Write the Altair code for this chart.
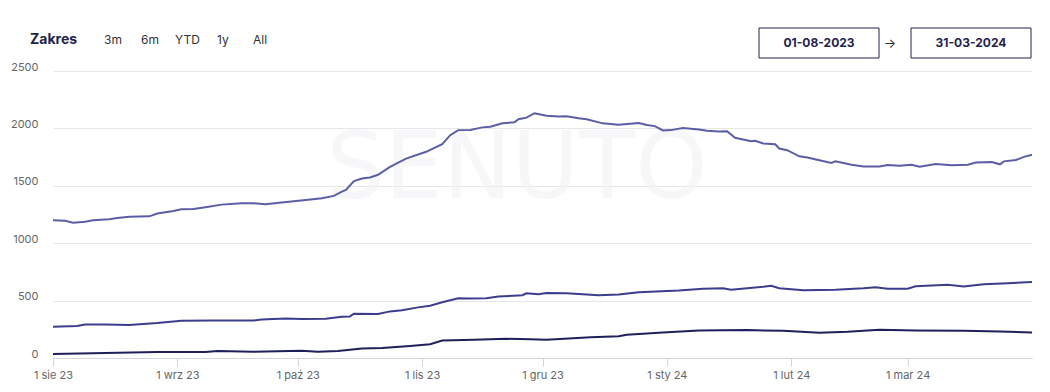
import json
import altair as alt
import pandas as pd

FONT = "Inter"

series_names = ["Seria 1", "Seria 2", "Seria 3"]
series_colors = ["#5a5ea6", "#3b3e8c", "#1f1f5c"]

top_dates = ["2023-08-01","2023-08-04","2023-08-06","2023-08-09","2023-08-11","2023-08-15","2023-08-17","2023-08-20","2023-08-25","2023-08-27","2023-08-31",
             "2023-09-02","2023-09-05","2023-09-08","2023-09-12","2023-09-17","2023-09-20","2023-09-23","2023-09-27","2023-09-30",
             "2023-10-03","2023-10-07","2023-10-10","2023-10-12","2023-10-13","2023-10-15","2023-10-17","2023-10-19","2023-10-21","2023-10-24","2023-10-28",
             "2023-11-02","2023-11-06","2023-11-08","2023-11-10","2023-11-13","2023-11-16","2023-11-18","2023-11-21","2023-11-24","2023-11-25","2023-11-27","2023-11-29",
             "2023-12-02","2023-12-05","2023-12-07","2023-12-10","2023-12-12","2023-12-16","2023-12-20","2023-12-25","2023-12-27","2023-12-29","2023-12-31",
             "2024-01-02","2024-01-05","2024-01-09","2024-01-11","2024-01-14","2024-01-16","2024-01-18","2024-01-22","2024-01-23","2024-01-25","2024-01-28","2024-01-29","2024-01-31",
             "2024-02-03","2024-02-05","2024-02-08","2024-02-11","2024-02-12","2024-02-16","2024-02-19","2024-02-23","2024-02-25","2024-02-28",
             "2024-03-02","2024-03-04","2024-03-08","2024-03-12","2024-03-16","2024-03-18","2024-03-22","2024-03-24","2024-03-25","2024-03-28","2024-03-30",
             "2024-04-01"]
top_values = [1200,1195,1178,1187,1200,1208,1219,1231,1234,1258,1281,
              1296,1298,1313,1336,1348,1348,1339,1354,1366,
              1377,1392,1412,1450,1465,1541,1564,1572,1596,1664,1737,
              1796,1862,1941,1985,1987,2009,2015,2044,2053,2080,2094,2132,
              2111,2103,2105,2088,2079,2044,2032,2046,2029,2020,1982,
              1985,2003,1991,1980,1974,1976,1918,1889,1892,1868,1862,1825,1810,
              1757,1746,1722,1699,1713,1684,1669,1669,1681,1675,
              1684,1667,1690,1678,1684,1702,1708,1687,1713,1725,1752,
              1770]

mid_dates = ["2023-08-01","2023-08-07","2023-08-09","2023-08-14","2023-08-20","2023-08-27",
             "2023-09-02","2023-09-10","2023-09-20","2023-09-22","2023-09-28",
             "2023-10-02","2023-10-08","2023-10-12","2023-10-14","2023-10-15","2023-10-21","2023-10-24","2023-10-27","2023-10-31",
             "2023-11-03","2023-11-06","2023-11-10","2023-11-13","2023-11-17","2023-11-20","2023-11-26","2023-11-27","2023-11-30",
             "2023-12-02","2023-12-07","2023-12-15","2023-12-20","2023-12-25",
             "2024-01-04","2024-01-10","2024-01-15","2024-01-17","2024-01-25","2024-01-27","2024-01-29",
             "2024-02-04","2024-02-12","2024-02-19","2024-02-22","2024-02-25",
             "2024-03-01","2024-03-03","2024-03-11","2024-03-15","2024-03-20","2024-03-26",
             "2024-04-01"]
mid_values = [272,278,292,292,287,304,
              325,327,327,336,345,
              339,342,360,362,386,383,406,415,441,
              456,485,520,518,520,535,547,564,555,
              567,564,547,553,573,
              588,603,608,594,620,629,608,
              590,594,608,617,603,
              603,625,638,623,643,652,
              661]

low_dates = ["2023-08-01","2023-08-14","2023-08-27",
             "2023-09-08","2023-09-11","2023-09-20",
             "2023-10-02","2023-10-06","2023-10-11","2023-10-17","2023-10-22","2023-10-29",
             "2023-11-03","2023-11-06","2023-11-14","2023-11-22","2023-11-28",
             "2023-12-02","2023-12-13","2023-12-20","2023-12-22","2023-12-31",
             "2024-01-09","2024-01-21","2024-01-30",
             "2024-02-08","2024-02-15","2024-02-23",
             "2024-03-03","2024-03-15","2024-03-24",
             "2024-04-01"]
low_values = [35,44,53,
              53,61,55,
              64,55,61,82,88,105,
              120,152,158,167,164,
              158,181,190,202,222,
              240,243,237,
              219,228,246,
              240,237,231,
              222]

month_abbr = ["sty","lut","mar","kwi","maj","cze","lip","sie","wrz","paź","lis","gru"]
tick_dates = ["2023-08-01","2023-09-01","2023-10-01","2023-11-01","2023-12-01","2024-01-01","2024-02-01","2024-03-01"]
y_ticks = [0, 500, 1000, 1500, 2000, 2500]
x_domain = ["2023-08-01", "2024-04-01"]

header_title = "Zakres"
range_buttons = ["3m", "6m", "YTD", "1y", "All"]
date_from = "01-08-2023"
date_to = "31-03-2024"
watermark = "SENUTO"

rows = []
for name, ds, vs in zip(series_names, [top_dates, mid_dates, low_dates], [top_values, mid_values, low_values]):
    for d, v in zip(ds, vs):
        rows.append({"series": name, "date": d + "T00:00:00", "value": v})
df = pd.DataFrame(rows)


def dt(s):
    y, m, d = map(int, s.split("-"))
    return alt.DateTime(year=y, month=m, date=d)


label_expr = ("'1 ' + " + json.dumps(month_abbr, ensure_ascii=False)
              + "[month(datum.value)] + ' ' + timeFormat(datum.value, '%y')")

W, H = 979, 287

lines = alt.Chart(df).mark_line(strokeWidth=2, interpolate="linear").encode(
    x=alt.X("date:T",
            scale=alt.Scale(domain=[dt(s) for s in x_domain]),
            axis=alt.Axis(values=[dt(s) for s in tick_dates], labelExpr=label_expr, title=None,
                          grid=False, domain=True, domainColor="#d4d4dc", ticks=True,
                          tickColor="#d4d4dc", tickSize=8, labelPadding=3, labelFlush=False,
                          labelFontSize=11, labelColor="#666666", labelFont=FONT)),
    y=alt.Y("value:Q",
            scale=alt.Scale(domain=[0, 2500], nice=False),
            axis=alt.Axis(values=y_ticks, format="d", title=None, grid=True, gridColor="#e6e6e6",
                          domain=False, ticks=False, labelPadding=15, labelBaseline="alphabetic",
                          labelOffset=-1, labelFontSize=11, labelColor="#666666", labelFont=FONT)),
    color=alt.Color("series:N", scale=alt.Scale(domain=series_names, range=series_colors), legend=None),
)


def one():
    return alt.Data(values=[{"k": 1}])


def text_mark(txt, x, y, size=12, weight="normal", color="#333333", align="left", font=FONT, opacity=1.0):
    return alt.Chart(one()).mark_text(
        text=txt, fontSize=size, fontWeight=weight, color=color, align=align,
        baseline="middle", font=font, opacity=opacity
    ).encode(x=alt.value(x), y=alt.value(y))


def box(x1, x2, y1, y2):
    return alt.Chart(one()).mark_rect(fill="white", stroke="#23234d", strokeWidth=1).encode(
        x=alt.value(x1), x2=alt.value(x2), y=alt.value(y1), y2=alt.value(y2))


wm = text_mark(watermark, 464, 99, size=92, weight="normal", color="#f3f3f6",
               align="center", font="DejaVu Sans", opacity=0.6)

layers = [wm, lines,
          text_mark(header_title, -23, -31, size=14, weight="bold", color="#23234d")]
for label, bx in zip(range_buttons, [51, 88, 122, 164, 200]):
    layers.append(text_mark(label, bx, -31, size=12, color="#333333"))
layers += [
    box(706, 826, -43, -13),
    text_mark(date_from, 766, -28, size=12, weight="bold", color="#23234d", align="center"),
    text_mark("→", 837, -27, size=13, color="#333333", align="center"),
    box(858, 978, -43, -13),
    text_mark(date_to, 918, -28, size=12, weight="bold", color="#23234d", align="center"),
]

chart = alt.layer(*layers).properties(
    width=W, height=H,
    padding={"left": 45, "top": 63, "right": 10, "bottom": 28},
    autosize=alt.AutoSizeParams(type="none"),
    background="white",
).configure_view(stroke=None)

chart.save("out.html", embed_options={"renderer": "svg", "actions": False})
